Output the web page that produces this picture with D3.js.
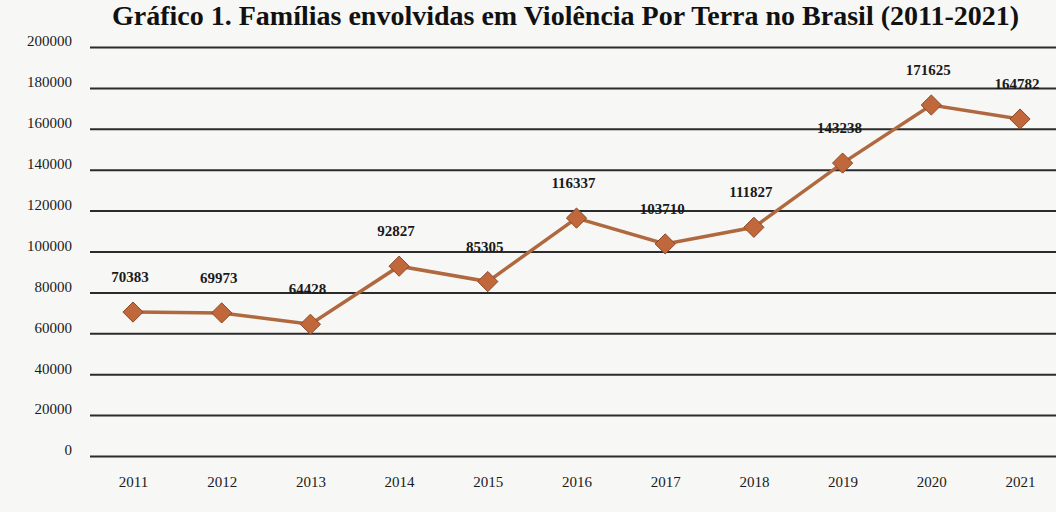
<!DOCTYPE html>
<html>
<head>
<meta charset="utf-8">
<script src="https://cdn.jsdelivr.net/npm/d3@7"></script>
<style>
  body { margin: 0; background: #f7f7f6; }
  svg { display: block; font-family: "Liberation Serif", "DejaVu Serif", serif; }
  .grid line { stroke: #2b2b2b; stroke-width: 2; }
  .grid .domain { display: none; }
  .y-axis text, .x-axis text { fill: #1a1a1a; font-size: 15px; }
  .y-axis .domain, .x-axis .domain, .y-axis line, .x-axis line { display: none; }
  .value-label { font-size: 15px; font-weight: bold; fill: #1a1a1a; text-anchor: middle; }
  .title { font-size: 28px; font-weight: bold; fill: #111; }
</style>
</head>
<body>
<script>
const width = 1056;
const height = 512;

const years = ["2011", "2012", "2013", "2014", "2015", "2016", "2017", "2018", "2019", "2020", "2021"];
const familias = [70383, 69973, 64428, 92827, 85305, 116337, 103710, 111827, 143238, 171625, 164782];
const yTicks = [0, 20000, 40000, 60000, 80000, 100000, 120000, 140000, 160000, 180000, 200000];

const svg = d3
  .select("body")
  .append("svg")
  .attr("width", width)
  .attr("height", height);

const xScale = d3.scalePoint().domain(years).range([133, 1020]);
const yScale = d3.scaleLinear().domain([0, 200000]).range([456, 47]);

// título
svg
  .append("text")
  .attr("class", "title")
  .attr("x", 112)
  .attr("y", 25)
  .text("Gráfico 1. Famílias envolvidas em Violência Por Terra no Brasil (2011-2021)");

// linhas de grade
svg
  .append("g")
  .attr("class", "grid")
  .attr("transform", "translate(90,0)")
  .call(d3.axisRight(yScale).tickValues(yTicks).tickSize(width - 90).tickFormat(""));

svg
  .append("g")
  .attr("class", "y-axis")
  .attr("transform", "translate(80,-6)")
  .call(d3.axisLeft(yScale).tickValues(yTicks).tickSize(0).tickPadding(8).tickFormat(d3.format("d")))
  .attr("font-family", null)
  .attr("font-size", null);

svg
  .append("g")
  .attr("class", "x-axis")
  .attr("transform", "translate(0,470)")
  .call(d3.axisBottom(xScale).tickSize(0).tickPadding(6))
  .attr("font-family", null)
  .attr("font-size", null);

const data = years.map((y, i) => ({ year: y, value: familias[i] }));

const line = d3
  .line()
  .x(d => xScale(d.year))
  .y(d => yScale(d.value));

svg
  .append("path")
  .datum(data)
  .attr("fill", "none")
  .attr("stroke", "#b0693f")
  .attr("stroke-width", 3.5)
  .attr("d", line);

svg
  .selectAll(".marker")
  .data(data)
  .enter()
  .append("path")
  .attr("class", "marker")
  .attr("d", d3.symbol().type(d3.symbolDiamond2).size(260))
  .attr("transform", d => `translate(${xScale(d.year)},${yScale(d.value)})`)
  .attr("fill", "#c0683c")
  .attr("stroke", "#8a4a26")
  .attr("stroke-width", 1);

svg
  .selectAll(".value-label")
  .data(data)
  .enter()
  .append("text")
  .attr("class", "value-label")
  .attr("x", d => xScale(d.year) - 3)
  .attr("y", d => yScale(d.value) - 30)
  .text(d => d.value);
</script>
</body>
</html>
